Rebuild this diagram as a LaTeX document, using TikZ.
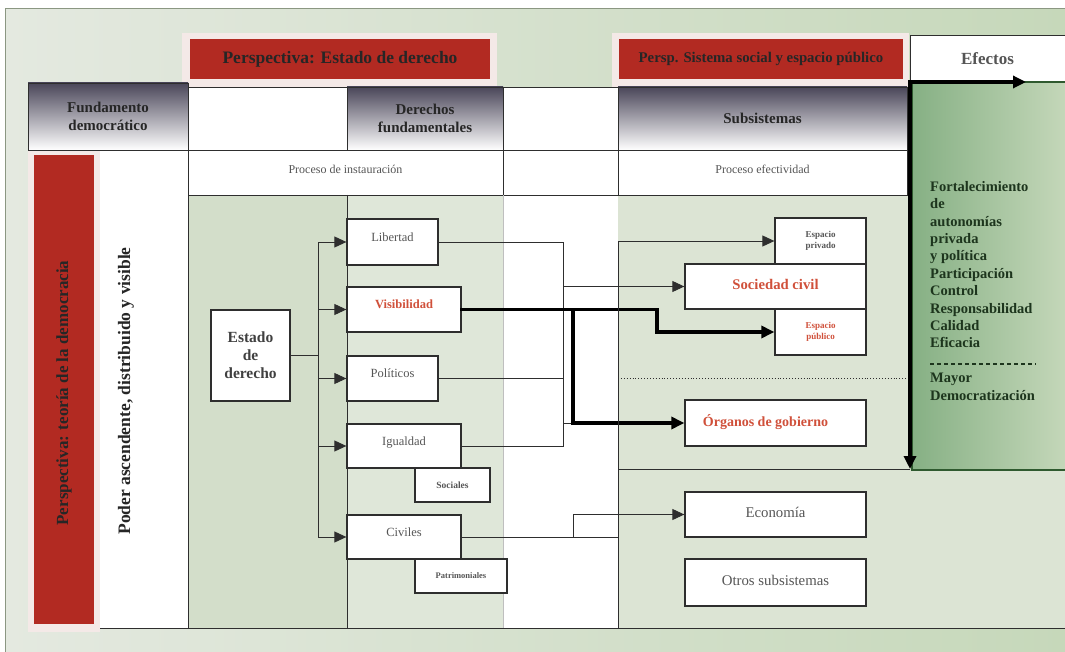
\documentclass[tikz,border=0pt]{standalone}
\usepackage{fontspec}
\setmainfont{Liberation Serif}
\usetikzlibrary{arrows.meta}
\definecolor{PerspRed}{HTML}{B22A22}
\definecolor{FrameRose}{HTML}{F4E9E7}
\definecolor{HeadDark}{HTML}{4A4659}
\definecolor{TextGray}{HTML}{555555}
\definecolor{TextRed}{HTML}{D0503A}
\definecolor{LineGray}{HTML}{2E2E2E}
\definecolor{PanelGreen}{HTML}{86B084}
\definecolor{PanelLight}{HTML}{C4D7B9}
\definecolor{PanelLine}{HTML}{2F5A2F}
\definecolor{PanelText}{HTML}{1D351D}
\definecolor{BackLeft}{HTML}{E4E9E0}
\definecolor{BackRight}{HTML}{C6D8BA}
\definecolor{ColGreen}{HTML}{D3DECA}
\definecolor{ColPale}{HTML}{DFE7D9}
\definecolor{ColRight}{HTML}{DCE4D4}
\begin{document}
\begin{tikzpicture}[x=1pt,y=-1pt]
				\tikzstyle{Box} = [draw=LineGray, line width=1.3pt, fill=white, text=TextGray, inner sep=0pt, font=\fontsize{12.5}{14}\selectfont]
				\tikzstyle{Right} = [Box, text depth=10pt]
				\tikzstyle{Small} = [Box, align=center, font=\fontsize{9}{11}\selectfont\bfseries]
				\tikzstyle{Head} = [draw=LineGray, line width=0.8pt, top color=HeadDark, bottom color=white, text=black!85, align=center, inner sep=0pt, font=\fontsize{15}{17.5}\selectfont\bfseries]
				\tikzstyle{Cell} = [draw=LineGray, line width=0.8pt, fill=white, text=TextGray, inner sep=0pt, text depth=6pt, font=\fontsize{12}{14}\selectfont]
				\tikzstyle{Red} = [fill=PerspRed, text=black!85, inner sep=0pt]
				\tikzstyle{Wire} = [draw=LineGray, line width=0.9pt]
				\tikzstyle{Flow} = [Wire, -{Triangle[length=12pt,width=11pt]}]
				\tikzstyle{Thick} = [draw=black, line width=3.2pt, line cap=rect, -{Triangle[length=13pt,width=12pt]}]
				\useasboundingbox (0,0) rectangle (1065,652);
				% background and columns
				\fill[white] (0,0) rectangle (1065,652);
				\shade[left color=BackLeft, right color=BackRight] (5,9) rectangle (1065,652);
				\draw[BackRight!70!black, line width=1pt] (5,652) -- (5,9) -- (1065,9);
				\fill[white] (100,150) rectangle (188,628);
				\fill[ColGreen] (188,195) rectangle (347,628);
				\fill[ColPale] (347,195) rectangle (503,628);
				\fill[white] (503,195) rectangle (618,628);
				\fill[ColRight] (618,195) rectangle (910,628);
				\fill[ColRight] (910,470) rectangle (1065,628);
				\fill[FrameRose] (28,148) rectangle (100,632);
				\fill[PerspRed] (34,155) rectangle (94,624);
				\node (teoria) at (64,393) [rotate=90, text=black!85, font=\fontsize{17}{19}\selectfont\bfseries] {Perspectiva: teoría de la democracia};
				\node (poder) at (126,391) [rotate=90, text=black!85, font=\fontsize{17.5}{19}\selectfont\bfseries] {Poder ascendente, distribuido y visible};
				% perspectives
				\fill[FrameRose] (182,33) rectangle (497,87);
				\node (estadoPersp) at (340,59) [Red, minimum width=300, minimum height=40, font=\fontsize{17.5}{19}\selectfont\bfseries] {Perspectiva: Estado de derecho};
				\fill[FrameRose] (612,33) rectangle (909,87);
				\node (sistema) at (761,59) [Red, minimum width=284, minimum height=40, font=\fontsize{14.8}{16}\selectfont\bfseries] {Persp. Sistema social y espacio público};
				\node (efectos) at (987.5,59) [Cell, line width=1pt, minimum width=155, minimum height=46, text depth=1pt, font=\fontsize{17}{19}\selectfont\bfseries] {Efectos};
				% header rows
				\node (fundamento) at (108,116.5) [Head, minimum width=160, minimum height=67] {Fundamento\\democrático};
				\draw[Wire, fill=white] (188,87) rectangle (347,150);
				\node (derechos) at (425,118.5) [Head, minimum width=156, minimum height=63] {Derechos\\fundamentales};
				\draw[Wire, fill=white] (503,87) rectangle (618,150);
				\node (subsistemas) at (762.5,118.5) [Head, minimum width=289, minimum height=63] {Subsistemas};
				\node (instauracion) at (345.5,172.5) [Cell, minimum width=315, minimum height=45] {Proceso de instauración};
				\draw[Wire, fill=white] (503,150) rectangle (618,195);
				\node (efectividad) at (762.5,172.5) [Cell, minimum width=289, minimum height=45] {Proceso efectividad};
				\draw[Wire] (188,150) -- (188,628);
				\draw[Wire] (347,195) -- (347,628);
				\draw[black!25, line width=0.6pt] (503,195) -- (503,628);
				\draw[Wire] (100,628) -- (1065,628);
				\draw[Wire, dotted] (618,378) -- (907,378);
				\draw[Wire] (618,469) -- (910,469);
				% effects panel
				\shade[left color=PanelGreen, right color=PanelLight] (912,82) rectangle (1065,470);
				\draw[PanelLine, line width=2pt] (1065,470) -- (912,470) -- (912,82) -- (1065,82);
				\node (efectoList) at (930,181) [anchor=north west, inner sep=0pt, align=left, text=PanelText, font=\fontsize{14.5}{17.4}\selectfont\bfseries] {Fortalecimiento\\de\\autonomías\\privada\\y política\\Participación\\Control\\Responsabilidad\\Calidad\\Eficacia};
				\draw[PanelText, line width=1.6pt, dash pattern=on 4pt off 3pt] (930,364) -- (1036,364);
				\node (democratizacion) at (930,373) [anchor=north west, inner sep=0pt, align=left, text=PanelText, font=\fontsize{14.5}{17.4}\selectfont\bfseries] {Mayor\\Democratización};
				\coordinate (corner) at (910,82);
				\coordinate (tipR) at (1026,82);
				\coordinate (tipD) at (910,469);
				\draw[Thick] (corner) to (tipR);
				\draw[Thick] (corner) to (tipD);
				% rights
				\node (estado) at (250.5,355.5) [Box, minimum width=79, minimum height=91, align=center, text=black!75, font=\fontsize{15.5}{18}\selectfont\bfseries] {Estado\\de\\derecho};
				\node (libertad) at (392.5,242) [Right, minimum width=91, minimum height=46] {Libertad};
				\node (visibilidad) at (404,309.5) [Right, minimum width=114, minimum height=45, text=TextRed, font=\fontsize{12.5}{14}\selectfont\bfseries] {Visibilidad};
				\node (politicos) at (392.5,378.5) [Right, minimum width=91, minimum height=45] {Políticos};
				\node (igualdad) at (404,446) [Right, minimum width=114, minimum height=44] {Igualdad};
				\node (sociales) at (452.5,485) [Small, minimum width=75, minimum height=34, font=\fontsize{9.5}{11}\selectfont\bfseries] {Sociales};
				\node (civiles) at (404,537) [Right, minimum width=114, minimum height=44] {Civiles};
				\node (patrimoniales) at (461,576) [Small, minimum width=92, minimum height=34, font=\fontsize{8.5}{10}\selectfont\bfseries] {Patrimoniales};
				% subsystems
				\node (privado) at (820.5,241) [Small, minimum width=91, minimum height=46] {Espacio\\privado};
				\node (publico) at (820.5,332) [Small, minimum width=91, minimum height=46, text=TextRed] {Espacio\\público};
				\node (sociedad) at (775.5,286.5) [Box, minimum width=181, minimum height=45, text depth=5pt, text=TextRed, font=\fontsize{14.7}{16}\selectfont\bfseries] {Sociedad civil};
				\node (organos) at (775.5,423) [Box, minimum width=181, minimum height=46, text depth=5pt, text=TextRed, font=\fontsize{14}{16}\selectfont\bfseries] {\hspace*{-20pt}Órganos de gobierno};
				\node (economia) at (775.5,514.5) [Box, minimum width=181, minimum height=45, text depth=5pt, font=\fontsize{14.8}{16}\selectfont] {Economía};
				\node (otros) at (775.5,582.5) [Box, minimum width=181, minimum height=47, text depth=4pt, font=\fontsize{14.8}{16}\selectfont] {Otros subsistemas};
				% connectors
				\coordinate (bus) at (318,355.5);
				\coordinate (j1) at (563,286.5);
				\coordinate (j2) at (563,423);
				\coordinate (j3) at (573,309.5);
				\coordinate (j4) at (657,332);
				\coordinate (j5) at (573,514.5);
				\coordinate (j6) at (618,537);
				\coordinate (j7) at (618,628);
				\draw [Wire] (estado.east) to (bus);
				\draw [Flow] (bus) |- (libertad.west);
				\draw [Flow] (bus) |- (visibilidad.west);
				\draw [Flow] (bus) |- (politicos.west);
				\draw [Flow] (bus) |- (igualdad.west);
				\draw [Flow] (bus) |- (civiles.west);
				\draw [Flow] (libertad.east) -| (j1) -- (sociedad.west);
				\draw [Wire] (j1) to (j2);
				\draw [Wire] (politicos.east) -| (j2);
				\draw [Wire] (igualdad.east) -| (j2) -- (j3 |- j2);
				\draw [Thick] (visibilidad.east) -| (j4) -- (publico.west);
				\draw [Thick] (j3) |- (organos.west);
				\draw [Wire] (civiles.east) to (j6);
				\draw [Flow] (civiles.east) -| (j5) -- (economia.west);
				\draw [Flow] (j7) |- (privado.west);
			\end{tikzpicture}
\end{document}
